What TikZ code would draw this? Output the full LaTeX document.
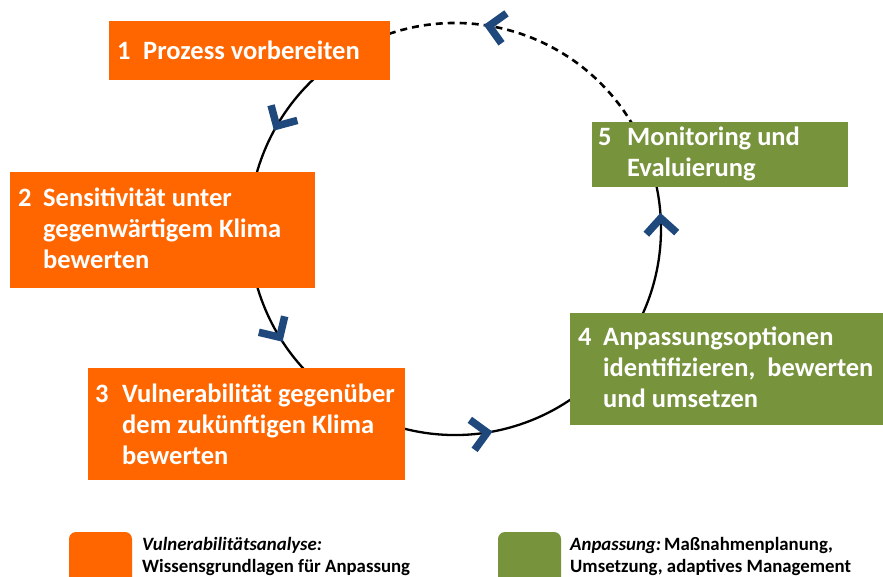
\documentclass[tikz,border=0pt]{standalone}
\usepackage{fontspec}
\setmainfont{Carlito}
\usetikzlibrary{calc}
\definecolor{orng}{RGB}{255,102,0}
\definecolor{olive}{RGB}{119,147,60}
\definecolor{chevblue}{RGB}{31,73,125}
\begin{document}
\begin{tikzpicture}[x=1pt,y=-1pt,
  ring/.style={line width=2.3pt, black},
  ringdash/.style={line width=2.6pt, black, dash pattern=on 7pt off 5pt},
  chev/.style={line width=7.5pt, chevblue, line join=miter, line cap=butt},
  obox/.style={fill=orng, draw=none, inner sep=0pt, anchor=north west},
  gbox/.style={fill=olive, draw=none, inner sep=0pt, anchor=north west},
  btext/.style={text=white, font=\fontsize{26.5}{31}\selectfont\bfseries, inner sep=0pt, anchor=base west},
  legtext/.style={text=black, font=\fontsize{18.8}{22}\selectfont\bfseries, inner sep=0pt, anchor=base west},
]
\useasboundingbox (0,0) rectangle (883,577);
\fill[white] (0,0) rectangle (883,577);

% ring
\coordinate (c) at (455,229);
\coordinate (p5) at ($(c)+(-30:206)$);
\coordinate (p1) at ($(c)+(-110:206)$);
\draw[ringdash] (p5) arc[start angle=-30, end angle=-110, radius=206];
\draw[ring] (p1) arc[start angle=-110, end angle=-390, radius=206];

% boxes
\node[obox, minimum width=281pt, minimum height=59pt] (b1) at (109,21) {};
\node[obox, minimum width=305pt, minimum height=116pt] (b2) at (10,172) {};
\node[obox, minimum width=317pt, minimum height=112pt] (b3) at (88,368) {};
\node[gbox, minimum width=313pt, minimum height=112pt] (b4) at (570,313) {};
\node[gbox, minimum width=256pt, minimum height=65pt] (b5) at (592,122) {};

% box texts
\node[btext] (t1) at (117,60) {\makebox[26pt][l]{1}\parbox[t]{300pt}{\raggedright Prozess vorbereiten}};
\node[btext] (t2) at (18,207) {\makebox[25pt][l]{2}\parbox[t]{300pt}{\raggedright Sensitivität unter\\gegenwärtigem Klima\\bewerten}};
\node[btext] (t3) at (95,402) {\makebox[27pt][l]{3}\parbox[t]{300pt}{\raggedright Vulnerabilität gegenüber\\dem zukünftigen Klima\\bewerten}};
\node[btext] (t4) at (578,345) {\makebox[25pt][l]{4}\parbox[t]{300pt}{\raggedright Anpassungsoptionen\\identifizieren,~ bewerten\\und umsetzen}};
\node[btext] (t5) at (598,146) {\makebox[29pt][l]{5}\parbox[t]{300pt}{\raggedright Monitoring und\\Evaluierung}};

% chevrons
\foreach \a in {-80.5,-150,148.3,81,-3} {
  \pgfmathsetmacro{\ua}{\a+45}
  \pgfmathsetmacro{\ub}{\a+135}
  \coordinate (v) at ($(c)+(\a:206)$);
  \draw[chev] (v) ++(\ua:21.5) -- (v) -- ++(\ub:21.5);
}

% legend
\begin{scope}
\clip (0,0) rectangle (883,577);
\fill[orng, rounded corners=7pt] (69,532) rectangle (132,595);
\fill[olive, rounded corners=7pt] (498,532) rectangle (561,595);
\end{scope}
\node[legtext] (l1) at (142,550) {\parbox[t]{320pt}{\raggedright\textit{Vulnerabilitätsanalyse:}\\Wissensgrundlagen für Anpassung}};
\node[legtext] (l2) at (570,550) {\parbox[t]{320pt}{\raggedright\textit{Anpassung:}\,Maßnahmenplanung,\\Umsetzung, adaptives Management}};
\end{tikzpicture}
\end{document}
